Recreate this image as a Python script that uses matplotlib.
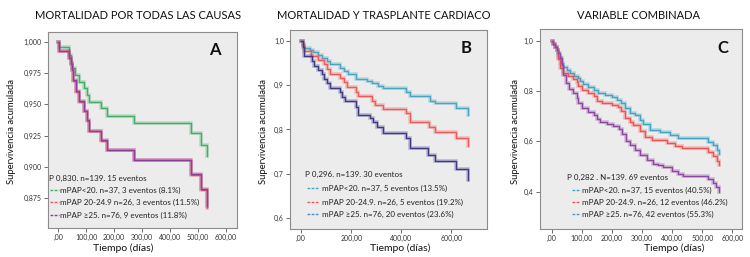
import matplotlib
matplotlib.use("Agg")
import matplotlib.pyplot as plt

plt.rcParams['font.family'] = ['Lato', 'DejaVu Sans']

# --- Panel A : mortalidad por todas las causas ---
a_t_menor20 = [0, 1, 38, 44, 50, 60, 74, 93, 101, 110, 153, 175, 272, 474, 510, 533]
a_s_menor20 = [1.0, 0.9955, 0.9894, 0.984, 0.9787, 0.9734, 0.968, 0.9628, 0.9574, 0.952,
               0.9468, 0.9405, 0.9348, 0.9269, 0.9175, 0.9087]
a_t_20_24 = [0, 1, 38, 44, 48, 52, 62, 74, 93, 101, 110, 153, 175, 272, 474, 510, 533]
a_s_20_24 = [1.0, 0.9925, 0.9866, 0.9818, 0.977, 0.9686, 0.9602, 0.9522, 0.9443, 0.937,
             0.9285, 0.9211, 0.9133, 0.9052, 0.8937, 0.8815, 0.8675]
a_t_mayor25 = [0, 1, 38, 44, 48, 52, 62, 74, 93, 101, 110, 153, 175, 272, 474, 510, 533]
a_s_mayor25 = [1.0, 0.9928, 0.987, 0.9822, 0.9774, 0.969, 0.9606, 0.9526, 0.9447, 0.9375,
               0.929, 0.9216, 0.9139, 0.9059, 0.8947, 0.8825, 0.8686]

# --- Panel B : mortalidad y trasplante cardiaco ---
b_t_menor20 = [0, 6, 12, 36, 49, 66, 82, 102, 116, 156, 173, 189, 218, 262, 284, 305, 328,
               417, 435, 514, 534, 617, 667]
b_s_menor20 = [1.0, 0.992, 0.984, 0.979, 0.9737, 0.9677, 0.9617, 0.954, 0.9467, 0.939, 0.9317,
               0.924, 0.9144, 0.909, 0.904, 0.8986, 0.8926, 0.885, 0.8754, 0.8649, 0.859,
               0.8477, 0.8326]
b_t_20_24 = [0, 6, 12, 40, 69, 93, 105, 116, 156, 173, 183, 218, 226, 282, 295, 328, 417,
             435, 510, 534, 617, 667]
b_s_20_24 = [1.0, 0.99, 0.9767, 0.966, 0.9565, 0.9467, 0.936, 0.924, 0.9152, 0.906, 0.8964,
             0.885, 0.8754, 0.864, 0.855, 0.8454, 0.838, 0.8176, 0.806, 0.795, 0.780, 0.7628]
b_t_mayor25 = [0, 6, 12, 43, 53, 66, 85, 93, 105, 116, 156, 165, 175, 218, 226, 275, 289,
               302, 328, 417, 435, 508, 534, 617, 667]
b_s_mayor25 = [1.0, 0.985, 0.966, 0.954, 0.9437, 0.934, 0.924, 0.9137, 0.904, 0.8926, 0.8836,
               0.8739, 0.864, 0.8514, 0.8326, 0.825, 0.816, 0.806, 0.793, 0.780, 0.7575,
               0.7425, 0.729, 0.710, 0.686]

# --- Panel C : variable combinada ---
c_t_menor20 = [0, 5, 10, 17, 22, 31, 39, 50, 61, 75, 86, 94, 105, 122, 142, 155, 177, 199,
               216, 230, 244, 260, 277, 293, 304, 327, 360, 393, 421, 520, 537, 548, 557]
c_s_menor20 = [1.0, 0.985, 0.975, 0.963, 0.936, 0.912, 0.895, 0.882, 0.87, 0.86, 0.85, 0.838,
               0.826, 0.815, 0.805, 0.792, 0.783, 0.776, 0.766, 0.752, 0.732, 0.714, 0.703,
               0.683, 0.668, 0.645, 0.636, 0.626, 0.612, 0.5987, 0.5855, 0.5656, 0.55]
c_t_20_24 = [0, 5, 10, 17, 20, 28, 39, 53, 72, 83, 88, 100, 120, 142, 150, 166, 199, 219, 230,
             244, 260, 271, 293, 310, 332, 382, 410, 432, 520, 537, 550, 557]
c_s_20_24 = [1.0, 0.985, 0.975, 0.963, 0.925, 0.893, 0.87, 0.858, 0.846, 0.834, 0.818, 0.805,
             0.793, 0.78, 0.762, 0.752, 0.745, 0.736, 0.72, 0.694, 0.677, 0.663, 0.642, 0.6185,
             0.6053, 0.595, 0.5815, 0.572, 0.559, 0.542, 0.5232, 0.506]
c_t_mayor25 = [0, 5, 10, 17, 22, 28, 33, 39, 46, 57, 72, 83, 88, 100, 120, 142, 150, 160, 183,
               205, 224, 235, 246, 260, 275, 293, 316, 338, 354, 371, 399, 421, 437, 520, 535,
               546, 557]
c_s_mayor25 = [1.0, 0.985, 0.975, 0.963, 0.95, 0.93, 0.903, 0.8636, 0.83, 0.808, 0.791, 0.771,
               0.751, 0.731, 0.7154, 0.7047, 0.689, 0.6756, 0.6676, 0.662, 0.649, 0.628, 0.601,
               0.5855, 0.565, 0.5457, 0.526, 0.51, 0.506, 0.497, 0.4835, 0.4703, 0.4623, 0.449,
               0.433, 0.4173, 0.40]

titulos = ["MORTALIDAD POR TODAS LAS CAUSAS", "MORTALIDAD Y TRASPLANTE CARDIACO",
           "VARIABLE COMBINADA"]
letras = ["A", "B", "C"]

a_xticks = [0, 100, 200, 300, 400, 500, 600]
a_xlabels = [",00", "100,00", "200,00", "300,00", "400,00", "500,00", "600,00"]
a_yticks = [0.875, 0.900, 0.925, 0.950, 0.975, 1.000]
a_ylabels = ["0,875", "0,900", "0,925", "0,950", "0,975", "1,000"]
b_xticks = [0, 200, 400, 600]
b_xlabels = [",00", "200,00", "400,00", "600,00"]
b_yticks = [0.6, 0.7, 0.8, 0.9, 1.0]
b_ylabels = ["0,6", "0,7", "0,8", "0,9", "1,0"]
c_xticks = a_xticks
c_xlabels = a_xlabels
c_yticks = [0.4, 0.6, 0.8, 1.0]
c_ylabels = ["0,4", "0,6", "0,8", "1,0"]

a_leyenda = ["P 0,830. n=139. 15 eventos",
             "mPAP<20. n=37, 3 eventos (8.1%)",
             "mPAP 20-24.9 n=26, 3 eventos (11.5%)",
             "mPAP \u226525. n=76, 9 eventos (11.8%)"]
b_leyenda = ["P 0,296. n=139. 30 eventos",
             "mPAP<20. n=37, 5 eventos (13.5%)",
             "mPAP 20-24.9. n=26, 5 eventos (19.2%)",
             "mPAP \u226525. n=76, 20 eventos (23.6%)"]
c_leyenda = ["P 0,282 . N=139. 69 eventos",
             "mPAP<20. n=37, 15 eventos (40.5%)",
             "mPAP 20-24.9. n=26, 12 eventos (46.2%)",
             "mPAP \u226525. n=76, 42 eventos (55.3%)"]

# colores de cada curva (y del guion de la leyenda)
a_colores = ["#45ad66", "#ef5a5e", "#8c3f98"]
b_colores = ["#4aa5c2", "#ee5b5b", "#3d3b86"]
b_guiones = ["#4aa5c2", "#ee5b5b", "#4a8fc0"]
c_colores = ["#41a4c3", "#ef5252", "#8f46a0"]
c_guiones = ["#41a4c3", "#ef5252", "#4a9cc0"]

fig = plt.figure(figsize=(7.5, 2.57), dpi=100)

paneles = [
    dict(rect=[0.064, 0.1128, 0.252, 0.7627], xlim=(-37, 640), ylim=(0.8513, 1.0077),
         curvas=[(a_t_menor20, a_s_menor20), (a_t_20_24, a_s_20_24), (a_t_mayor25, a_s_mayor25)],
         colores=a_colores, guiones=a_colores, xt=a_xticks, xl=a_xlabels, yt=a_yticks,
         yl=a_ylabels, ley=a_leyenda, ley_x=(0.005, 0.008, 0.056, 0.066),
         ley_y=(0.255, 0.194, 0.133, 0.066), letra_xy=(0.884, 0.908), titulo_x=0.184,
         ylab_x=0.016, xlab_x=0.164),
    dict(rect=[0.3867, 0.109, 0.2627, 0.7743], xlim=(-44, 742), ylim=(0.5758, 1.024),
         curvas=[(b_t_menor20, b_s_menor20), (b_t_20_24, b_s_20_24), (b_t_mayor25, b_s_mayor25)],
         colores=b_colores, guiones=b_guiones, xt=b_xticks, xl=b_xlabels, yt=b_yticks,
         yl=b_ylabels, ley=b_leyenda, ley_x=(0.076, 0.088, 0.144, 0.161),
         ley_y=(0.276, 0.206, 0.136, 0.075), letra_xy=(0.893, 0.91), titulo_x=0.512,
         ylab_x=0.351, xlab_x=0.533),
    dict(rect=[0.72, 0.109, 0.2693, 0.778], xlim=(-39, 632), ylim=(0.2517, 1.046),
         curvas=[(c_t_menor20, c_s_menor20), (c_t_20_24, c_s_20_24), (c_t_mayor25, c_s_mayor25)],
         colores=c_colores, guiones=c_guiones, xt=c_xticks, xl=c_xlabels, yt=c_yticks,
         yl=c_ylabels, ley=c_leyenda, ley_x=(0.134, 0.157, 0.195, 0.206),
         ley_y=(0.26, 0.195, 0.135, 0.075), letra_xy=(0.906, 0.905), titulo_x=0.851,
         ylab_x=0.687, xlab_x=0.899),
]

for i, p in enumerate(paneles):
    ax = fig.add_axes(p['rect'])
    ax.set_facecolor("#ececec")
    for s in ax.spines.values():
        s.set_color("#8c8c8c")
        s.set_linewidth(0.8)
    # curvas Kaplan-Meier, con un halo claro como en SPSS
    for (t, s), col in zip(p['curvas'], p['colores']):
        ax.step(t, s, where='post', color=col, lw=2.6, alpha=0.3, solid_joinstyle='miter')
        ax.step(t, s, where='post', color=col, lw=1.0)
    ax.set_xlim(*p['xlim'])
    ax.set_ylim(*p['ylim'])
    ax.set_xticks(p['xt'])
    ax.set_xticklabels(p['xl'])
    ax.set_yticks(p['yt'])
    ax.set_yticklabels(p['yl'])
    ax.tick_params(labelsize=5.0, length=3, width=0.6, color="#555555", labelcolor="#333333",
                   pad=1.5)

    # leyenda escrita a mano (texto + guion de color)
    lx = p['ley_x']
    ly = p['ley_y']
    ax.text(lx[0], ly[0], p['ley'][0], transform=ax.transAxes, fontsize=5.8, va='center',
            color="#222222")
    for k in range(3):
        ax.plot([lx[1], lx[2]], [ly[k + 1], ly[k + 1]], transform=ax.transAxes,
                color=p['guiones'][k], lw=1.0, ls=(0, (2, 1)))
        ax.text(lx[3], ly[k + 1], p['ley'][k + 1], transform=ax.transAxes, fontsize=5.8,
                va='center', color="#222222")

    ax.text(p['letra_xy'][0], p['letra_xy'][1], letras[i], transform=ax.transAxes,
            fontsize=12, fontweight='bold', ha='center', va='center', color="#111111")

    fig.text(p['titulo_x'], 0.94, titulos[i], ha='center', va='center', fontsize=8.0,
             color="#111111")
    fig.text(p['ylab_x'], 0.49, "Supervivencia acumulada", rotation=90, ha='center',
             va='center', fontsize=6.8, color="#111111")
    fig.text(p['xlab_x'], 0.035, "Tiempo (días)", ha='center', va='center', fontsize=7.5,
             color="#111111")

fig.savefig("out.png", dpi=100, facecolor="white")
